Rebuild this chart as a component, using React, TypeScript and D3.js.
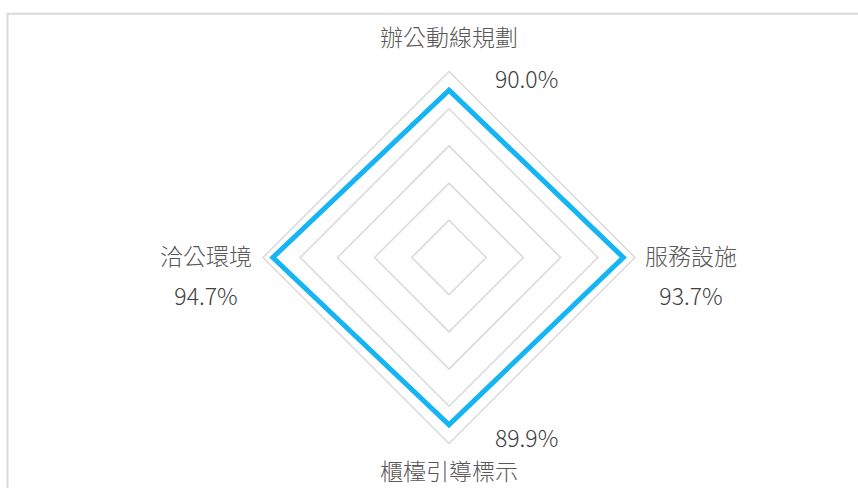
import * as d3 from "d3";
import React, { useEffect, useRef } from "react";

// axes go clockwise from the top
const categories = ["辦公動線規劃", "服務設施", "櫃檯引導標示", "洽公環境"];
const values = [0.9, 0.937, 0.899, 0.947];
const gridLevels = [0.2, 0.4, 0.6, 0.8, 1.0];

function RadarChart() {
    const svgRef = useRef<SVGSVGElement>(null);

    useEffect(() => {
        const svg = d3.select(svgRef.current);
        const width = 858;
        const height = 488;
        const cx = 449;
        const cy = 257.5;
        const outer = 186;

        svg.selectAll("*").remove();

        // chart frame, cut off at right and bottom like the source
        svg.append("path")
            .attr("d", `M7.5,${height + 5}V13.8H${width + 5}`)
            .attr("fill", "none")
            .attr("stroke", "#d9d9d9")
            .attr("stroke-width", 2);

        const r = d3.scaleLinear().domain([0, 1]).range([0, outer]);
        const angle = (i: number) => (i / categories.length) * Math.PI * 2;

        const radial = d3
            .lineRadial<number>()
            .angle((_, i) => angle(i))
            .radius((d) => r(d))
            .curve(d3.curveLinearClosed);

        const g = svg.append("g").attr("transform", `translate(${cx},${cy})`);

        g.selectAll("path.grid")
            .data(gridLevels)
            .join("path")
            .attr("class", "grid")
            .attr("d", (lv) => radial(categories.map(() => lv)))
            .attr("fill", "none")
            .attr("stroke", "#d9d9d9")
            .attr("stroke-width", 1.5);

        g.append("path")
            .attr("d", radial(values))
            .attr("fill", "none")
            .attr("stroke", "#14b4f5")
            .attr("stroke-width", 5)
            .attr("stroke-linejoin", "miter");

        const fontFamily = "'Noto Sans CJK TC', 'Noto Sans', sans-serif";
        const fmt = d3.format(".1%");

        const label = (x: number, y: number, text: string, color: string, anchor: string) =>
            g.append("text")
                .attr("x", x)
                .attr("y", y)
                .attr("text-anchor", anchor)
                .attr("fill", color)
                .attr("font-family", fontFamily)
                .attr("font-weight", 300)
                .attr("font-size", 23)
                .text(text);

        categories.forEach((cat, i) => {
            const a = angle(i);
            const sx = Math.sin(a);
            const sy = -Math.cos(a);
            const vy = sy * r(values[i]);

            if (Math.abs(sx) < 0.01) {
                // top / bottom axis: name centred, value to the right of the point
                const top = sy < 0;
                label(0, top ? -r(1) - 26 : r(1) + 36, cat, "#595959", "middle");
                label(46, top ? vy - 2 : vy + 22, fmt(values[i]), "#404040", "start");
            } else {
                // left / right axis: name beside the grid, value centred below it
                const right = sx > 0;
                const name = label(right ? r(1) + 10 : -r(1) - 11, 7, cat, "#595959", right ? "start" : "end");
                const box = (name.node() as SVGTextElement).getBBox();
                label(box.x + box.width / 2, 47, fmt(values[i]), "#404040", "middle");
            }
        });
    }, []);

    return (
        <svg
            ref={svgRef}
            width={858}
            height={488}
            style={{ position: "absolute", left: 0, top: 0, background: "#fff" }}
        ></svg>
    );
}

export default function App() {
    return <RadarChart />;
}
